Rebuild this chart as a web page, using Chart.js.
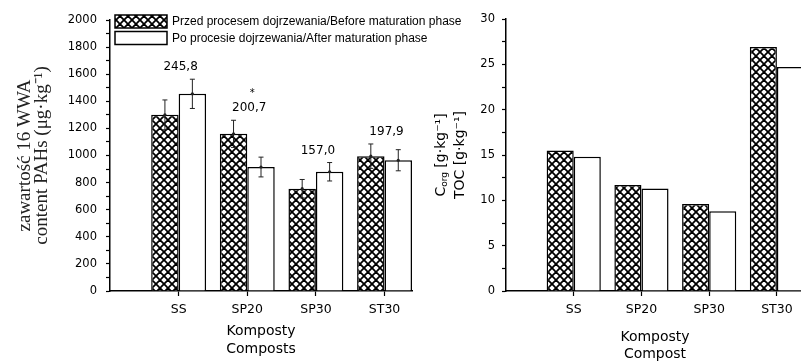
<!DOCTYPE html>
<html>
<head>
<meta charset="utf-8">
<script src="https://cdn.jsdelivr.net/npm/chart.js@4.4.0/dist/chart.umd.min.js"></script>
<style>
  html, body { margin: 0; padding: 0; background: #fff; overflow: hidden; }
  body { width: 801px; height: 361px; position: relative; }
  .box { position: absolute; top: 0; height: 361px; }
  #left { left: 0; width: 470px; }
  #right { left: 420px; width: 400px; }
</style>
</head>
<body>
<div class="box" id="left"><canvas id="pahChart" width="470" height="361"></canvas></div>
<div class="box" id="right"><canvas id="tocChart" width="400" height="361"></canvas></div>
<script>
// data
const categories = ['SS', 'SP20', 'SP30', 'ST30'];
const seriesLabels = [
    'Przed procesem dojrzewania/Before maturation phase',
    'Po procesie dojrzewania/After maturation phase'
];
const pahBefore = [1300, 1160, 755, 995];
const pahAfter = [1455, 915, 880, 965];
const pahBeforeErr = [110, 100, 68, 90];
const pahAfterErr = [108, 73, 68, 78];
const pahNotes = ['245,8', '200,7', '157,0', '197,9'];
const pahMarks = ['', '*', '', ''];
const tocBefore = [15.5, 11.7, 9.6, 26.9];
const tocAfter = [14.8, 11.3, 8.8, 24.7];

const INK = '#000';
const tickFont = { family: 'DejaVu Sans', size: 11.5 };
const catFont = { family: 'DejaVu Sans', size: 12.5 };

// crosshatch fill used for the "before" bars
const makeHatch = (ctx) => {
    const c = document.createElement('canvas');
    c.width = 8; c.height = 8;
    const g = c.getContext('2d');
    g.fillStyle = '#fff';
    g.fillRect(0, 0, 8, 8);
    g.strokeStyle = '#000';
    g.lineWidth = 1.8;
    for (const dx of [-8, 0, 8]) {
        g.beginPath(); g.moveTo(dx, 0); g.lineTo(dx + 8, 8); g.stroke();
        g.beginPath(); g.moveTo(dx + 8, 0); g.lineTo(dx, 8); g.stroke();
    }
    return ctx.createPattern(c, 'repeat');
};

const toPoints = (values) => values.map((v, i) => ({ x: i + 1, y: v }));

const xScale = (maxX, titleText, titleLh, titleBottom) => ({
    type: 'linear',
    min: 0,
    max: maxX,
    offset: false,
    border: { color: '#000', width: 1.5 },
    grid: { drawOnChartArea: false, offset: false, tickLength: 5, tickColor: '#000', tickWidth: 1.2 },
    afterBuildTicks: (s) => { s.ticks = categories.map((c, i) => ({ value: i + 1 })); },
    ticks: {
        autoSkip: false,
        maxRotation: 0,
        padding: 6,
        color: INK,
        font: catFont,
        callback: (v) => categories[v - 1] || ''
    },
    title: {
        display: true,
        text: titleText,
        color: INK,
        font: { family: 'DejaVu Sans', size: 14, lineHeight: titleLh / 14 },
        padding: { top: 0, bottom: titleBottom }
    },
    afterFit: (s) => { s.height = 70; }
});

const yScale = (maxY, step, major, width, title) => ({
    min: 0,
    max: maxY,
    border: { color: '#000', width: 1.5 },
    grid: { drawOnChartArea: false, tickLength: 4, tickColor: '#000', tickWidth: 1.2 },
    ticks: {
        stepSize: step,
        autoSkip: false,
        maxTicksLimit: 100,
        padding: width > 100 ? 9 : 7,
        color: INK,
        font: tickFont,
        callback: (v) => (v % major === 0 ? v : '')
    },
    title: title,
    afterFit: (s) => { s.width = width; }
});

// error bars with caps, from the value arrays
const errorBars = {
    id: 'errorBars',
    afterDatasetsDraw(chart) {
        const { ctx } = chart;
        const y = chart.scales.y;
        const sets = [[pahBefore, pahBeforeErr], [pahAfter, pahAfterErr]];
        ctx.save();
        ctx.strokeStyle = '#222';
        ctx.fillStyle = '#222';
        ctx.lineWidth = 1;
        sets.forEach(([vals, errs], d) => {
            const meta = chart.getDatasetMeta(d);
            meta.data.forEach((bar, i) => {
                const top = y.getPixelForValue(vals[i] + errs[i]);
                const bot = y.getPixelForValue(vals[i] - errs[i]);
                ctx.beginPath();
                ctx.moveTo(bar.x, top); ctx.lineTo(bar.x, bot);
                ctx.moveTo(bar.x - 2.5, top); ctx.lineTo(bar.x + 2.5, top);
                ctx.moveTo(bar.x - 2.5, bot); ctx.lineTo(bar.x + 2.5, bot);
                ctx.stroke();
                ctx.beginPath();
                ctx.arc(bar.x, y.getPixelForValue(vals[i]), 1.6, 0, Math.PI * 2);
                ctx.fill();
            });
        });
        ctx.restore();
    }
};

// numbers above each group
const groupNotes = {
    id: 'groupNotes',
    afterDatasetsDraw(chart) {
        const { ctx } = chart;
        const x = chart.scales.x;
        const y = chart.scales.y;
        ctx.save();
        ctx.fillStyle = INK;
        ctx.textAlign = 'center';
        ctx.textBaseline = 'middle';
        categories.forEach((c, i) => {
            const hi = Math.max(pahBefore[i] + pahBeforeErr[i], pahAfter[i] + pahAfterErr[i]);
            const px = x.getPixelForValue(i + 1) + 2;
            const py = y.getPixelForValue(hi) - 12;
            ctx.font = '12px "DejaVu Sans"';
            ctx.fillText(pahNotes[i], px, py);
            if (pahMarks[i]) {
                ctx.font = '10px "DejaVu Sans"';
                ctx.fillText(pahMarks[i], px + 3, py - 15);
            }
        });
        ctx.restore();
    }
};

// legend boxes in the top-left of the left panel
const boxLegend = {
    id: 'boxLegend',
    afterDraw(chart) {
        const { ctx } = chart;
        ctx.save();
        chart.data.datasets.forEach((ds, i) => {
            const top = 15 + i * 16.5;
            ctx.fillStyle = ds.backgroundColor;
            ctx.fillRect(115, top, 52, 13);
            ctx.strokeStyle = '#000';
            ctx.lineWidth = 1.5;
            ctx.strokeRect(115, top, 52, 13);
            ctx.fillStyle = INK;
            ctx.font = '12px "Liberation Sans"';
            ctx.textAlign = 'left';
            ctx.textBaseline = 'middle';
            ctx.fillText(ds.label, 172, top + 7);
        });
        ctx.restore();
    }
};

// rotated title of the right panel (C with "org" subscript)
const tocTitle = {
    id: 'tocTitle',
    afterDraw(chart) {
        const { ctx } = chart;
        const lines = [
            [['C', 14, 0], ['org', 9, 4], [' [g\u00b7kg\u207b\u00b9]', 14, 0]],
            [['TOC [g\u00b7kg\u207b\u00b9]', 14, 0]]
        ];
        const xs = [21, 40];
        ctx.save();
        ctx.fillStyle = INK;
        ctx.textBaseline = 'middle';
        ctx.textAlign = 'left';
        lines.forEach((parts, li) => {
            let total = 0;
            parts.forEach(([t, s]) => { ctx.font = s + 'px "DejaVu Sans"'; total += ctx.measureText(t).width; });
            ctx.save();
            ctx.translate(xs[li], 155);
            ctx.rotate(-Math.PI / 2);
            let pos = -total / 2;
            parts.forEach(([t, s, dy]) => {
                ctx.font = s + 'px "DejaVu Sans"';
                ctx.fillText(t, pos, dy);
                pos += ctx.measureText(t).width;
            });
            ctx.restore();
        });
        ctx.restore();
    }
};

const pahCanvas = document.getElementById('pahChart');
const pahHatch = makeHatch(pahCanvas.getContext('2d'));

new Chart(pahCanvas, {
    type: 'bar',
    data: {
        datasets: [
            {
                label: seriesLabels[0],
                data: toPoints(pahBefore),
                backgroundColor: pahHatch,
                borderColor: '#000',
                borderWidth: 1.5
            },
            {
                label: seriesLabels[1],
                data: toPoints(pahAfter),
                backgroundColor: '#fff',
                borderColor: '#000',
                borderWidth: 1.5
            }
        ]
    },
    options: {
        responsive: false,
        animation: false,
        categoryPercentage: 0.8,
        barPercentage: 1.0,
        layout: { padding: { top: 20, right: 58, left: 0, bottom: 0 } },
        plugins: { legend: { display: false }, tooltip: { enabled: false } },
        scales: {
            x: xScale(4.4, ['Komposty', 'Composts'], 18, 3),
            y: yScale(2000, 100, 200, 110, {
                display: true,
                text: ['zawarto\u015b\u0107 16 WWA', 'content PAHs (\u03bcg\u00b7kg\u207b\u00b9)'],
                color: '#222',
                font: { family: 'Liberation Serif', size: 19, lineHeight: 17 / 19 },
                padding: { top: 16.5, bottom: 0 }
            })
        }
    },
    plugins: [errorBars, groupNotes, boxLegend]
});

const tocCanvas = document.getElementById('tocChart');
const tocHatch = makeHatch(tocCanvas.getContext('2d'));

new Chart(tocCanvas, {
    type: 'bar',
    data: {
        datasets: [
            {
                label: seriesLabels[0],
                data: toPoints(tocBefore),
                backgroundColor: tocHatch,
                borderColor: '#000',
                borderWidth: 1.5
            },
            {
                label: seriesLabels[1],
                data: toPoints(tocAfter),
                backgroundColor: '#fff',
                borderColor: '#000',
                borderWidth: 1.5
            }
        ]
    },
    options: {
        responsive: false,
        animation: false,
        categoryPercentage: 0.8,
        barPercentage: 1.0,
        layout: { padding: { top: 19, right: 16, left: 0, bottom: 0 } },
        plugins: { legend: { display: false }, tooltip: { enabled: false } },
        scales: {
            x: xScale(4.4, ['Komposty', 'Compost'], 17, -1.5),
            y: yScale(30, 2.5, 5, 86, { display: false })
        }
    },
    plugins: [tocTitle]
});
</script>
</body>
</html>
